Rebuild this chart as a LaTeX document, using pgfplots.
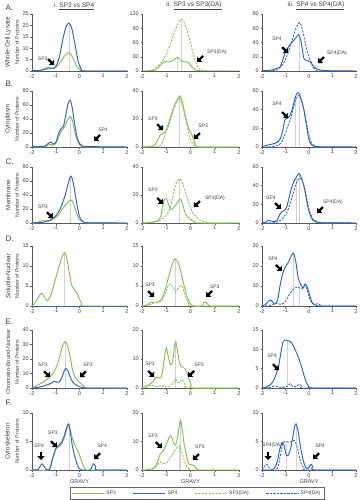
\documentclass[border=0pt]{standalone}
\usepackage{fontspec}
\setmainfont{Liberation Sans}
\usepackage{pgfplots}
\pgfplotsset{compat=1.18}
\usetikzlibrary{arrows.meta}
\definecolor{sgreen}{RGB}{140,188,90}
\definecolor{sblue}{RGB}{52,98,190}
\definecolor{txt}{RGB}{64,64,64}
\newcommand{\fs}[1]{\fontsize{#1}{#1}\selectfont}
\tikzset{
  bigarrow/.style={line width=2.3pt, black, -{Triangle[length=3.8pt,width=7pt]}},
  lab/.style={font=\fs{5}, text=txt, inner sep=0pt},
}
\newcommand{\aSE}[2]{\draw[bigarrow] ([shift={(-6pt,6pt)}]axis cs:#1,#2) -- (axis cs:#1,#2);}
\newcommand{\aSW}[2]{\draw[bigarrow] ([shift={(6pt,6pt)}]axis cs:#1,#2) -- (axis cs:#1,#2);}
\newcommand{\aS}[2]{\draw[bigarrow] ([shift={(0pt,8pt)}]axis cs:#1,#2) -- (axis cs:#1,#2);}
\newcommand{\lb}[3]{\node[lab] at (axis cs:#1,#2) {#3};}
\pgfplotsset{
  panel/.style={scale only axis, anchor=south west,
    axis lines*=left, axis line style={-,black!65,line width=0.4pt},
    xmin=-2, xmax=2, ymin=0, xtick={-2,-1,0,1,2},
    tick align=outside, major tick length=1.5pt,
    tick style={black!65,line width=0.4pt},
    tick label style={font=\fs{5.5}, text=txt},
    xticklabel style={inner sep=1.5pt}, yticklabel style={inner sep=1.5pt},
    /pgf/number format/assume math mode=true,
    clip mode=individual},
  sp3/.style={sgreen, line width=0.95pt, smooth, tension=0.5},
  sp4/.style={sblue, line width=0.95pt, smooth, tension=0.5},
  sp3da/.style={sgreen, line width=0.85pt, dash pattern=on 2.2pt off 1.3pt, smooth, tension=0.5},
  sp4da/.style={sblue, line width=0.85pt, dash pattern=on 2.2pt off 1.3pt, smooth, tension=0.5},
  gl/.style={gray!35, line width=0.6pt},
  gravy/.style={xlabel={GRAVY}, xlabel style={font=\fs{5.5}, text=txt, inner sep=1pt}},
}
\begin{document}
\begin{tikzpicture}
\path[use as bounding box] (0,0) rectangle (360pt,-500pt);
% titles
\node[font=\fs{6.5}, text=txt] at (74pt,-6pt) {i. \underline{SP3 vs SP4}};
\node[font=\fs{6.5}, text=txt] at (194pt,-6pt) {ii. \underline{SP3 vs SP3(DA)}};
\node[font=\fs{6.5}, text=txt] at (316pt,-6pt) {iii. \underline{SP4 vs SP4(DA)}};
% row letters
\foreach \l/\y in {A./8,B./84,C./162,D./239,E./322,F./403}{
  \node[anchor=west, font=\fs{8}, text=txt] at (2pt,-\y pt) {\l};
}
% row labels
\foreach \t/\y/\s in {Whole-Cell Lysate/42.5/6.3,Cytoplasm/119/6.3,Membrane/195/6.3,Soluble-Nuclear/276/6.3,Chromatin-Bound-Nuclear/362/5.6,Cytoskeleton/441.5/6.3}{
  \node[rotate=90, font=\fs{\s}, text=txt] at (8pt,-\y pt) {\t};
  \node[rotate=90, font=\fs{5.2}, text=txt] at (17pt,-\y pt) {Number of Proteins};
}

% ===== Row A =====
\begin{axis}[panel, at={(32pt,-71pt)}, width=95pt, height=57pt, ymax=25, ytick={0,5,...,25}]
\addplot[gl] coordinates {(-0.45,0)(-0.45,21)};
\addplot[sp3] coordinates {(-2,0)(-1.65,0.3)(-1.45,1.3)(-1.3,1.6)(-1.15,1.2)(-1,1.6)(-0.85,3.2)(-0.7,5.5)(-0.55,7.6)(-0.45,8)(-0.35,7.2)(-0.22,4.5)(-0.1,1.8)(0.05,0.4)(0.2,0)(2,0)};
\addplot[sp4] coordinates {(-2,0.2)(-1.6,0.3)(-1.35,1)(-1.15,1)(-1,2)(-0.85,6)(-0.72,13)(-0.58,19)(-0.45,21)(-0.32,18.5)(-0.18,11)(-0.05,4)(0.08,0.8)(0.25,0)(2,0)};
\aSE{-1.07}{2.6}\lb{-1.55}{5.2}{SP3}
\end{axis}
\begin{axis}[panel, at={(142pt,-71pt)}, width=97pt, height=57pt, ymax=120, ytick={0,30,...,120}]
\addplot[gl] coordinates {(-0.55,0)(-0.55,29)};
\addplot[gl] coordinates {(-0.38,0)(-0.38,109)};
\addplot[sp3da] coordinates {(-2,0)(-1.7,0.5)(-1.5,4)(-1.25,15)(-1.0,35)(-0.8,62)(-0.6,90)(-0.45,106)(-0.38,109)(-0.28,104)(-0.14,86)(0,60)(0.1,38)(0.25,14)(0.4,4)(0.6,1)(0.9,0)(2,0)};
\addplot[sp3] coordinates {(-2,0)(-1.6,0.5)(-1.4,4)(-1.2,14)(-1.05,20)(-0.9,19)(-0.7,23)(-0.55,29)(-0.42,23)(-0.28,19)(-0.12,19)(0.02,11)(0.18,3)(0.4,0.5)(0.7,0)(2,0)};
\aSW{0.27}{19}\lb{1.09}{40}{SP3(DA)}
\end{axis}
\begin{axis}[panel, at={(262pt,-71pt)}, width=94pt, height=57pt, ymax=80, ytick={0,20,...,80}]
\addplot[gl] coordinates {(-0.42,0)(-0.42,51)};
\addplot[sp4da] coordinates {(-2,0)(-1.5,0.5)(-1.3,3)(-1.15,8)(-1.0,16)(-0.85,30)(-0.7,46)(-0.55,60)(-0.4,68)(-0.28,58)(-0.16,39)(-0.05,25)(0.06,15)(0.17,6)(0.3,1.5)(0.5,0)(2,0)};
\addplot[sp4] coordinates {(-2,0.5)(-1.6,1.2)(-1.35,4)(-1.25,5)(-1.15,12)(-1.0,27)(-0.85,35)(-0.7,41)(-0.55,47)(-0.44,51)(-0.33,40)(-0.22,18)(-0.1,15)(0.05,13)(0.2,6)(0.35,2.5)(0.6,0.8)(1,0.3)(2,0)};
\aSE{-0.89}{25}\lb{-1.36}{45}{SP4}
\aSW{0.38}{11}\lb{1.19}{25}{SP4(DA)}
\end{axis}

% ===== Row B =====
\begin{axis}[panel, at={(32pt,-147pt)}, width=95pt, height=56pt, ymax=80, ytick={0,20,...,80}]
\addplot[gl] coordinates {(-0.4,0)(-0.4,44)};
\addplot[sp3] coordinates {(-2,0)(-1.6,0.3)(-1.4,1)(-1.25,4)(-1.12,2.5)(-1.0,5)(-0.85,16)(-0.75,24)(-0.65,27)(-0.55,35)(-0.45,42)(-0.39,44)(-0.3,38)(-0.2,22)(-0.1,10)(0,3)(0.12,0.5)(0.3,0)(2,0)};
\addplot[sp4] coordinates {(-2,0.5)(-1.6,0.5)(-1.45,1.5)(-1.32,5)(-1.2,7)(-1.08,4)(-0.98,8)(-0.87,20)(-0.78,26)(-0.68,29)(-0.58,45)(-0.48,62)(-0.39,66.5)(-0.3,55)(-0.2,32)(-0.1,14)(0,5)(0.12,1.5)(0.3,0.5)(0.6,0.5)(1,0.3)(2,0)};
\aSW{0.61}{8.6}\lb{0.99}{24}{SP4}
\end{axis}
\begin{axis}[panel, at={(142pt,-147pt)}, width=97pt, height=56pt, ymax=40, ytick={0,20,40}]
\addplot[gl] coordinates {(-0.45,0)(-0.45,36)};
\addplot[sp3da] coordinates {(-2,0)(-1.4,0.2)(-1.22,1.5)(-1.08,7)(-0.95,13)(-0.8,21)(-0.65,29)(-0.55,33)(-0.47,35)(-0.38,32)(-0.27,25)(-0.15,16)(-0.05,8)(0.07,3)(0.2,0.5)(0.4,0)(2,0)};
\addplot[sp3] coordinates {(-2,0)(-1.7,0.3)(-1.5,1)(-1.38,4)(-1.25,8.5)(-1.1,10)(-0.98,13)(-0.85,20)(-0.72,27)(-0.6,32)(-0.5,35)(-0.43,36.5)(-0.35,33)(-0.27,27)(-0.17,19)(-0.07,13)(0.05,9)(0.13,5)(0.22,1)(0.4,0)(2,0)};
\aSE{-1.13}{12}\lb{-1.55}{20}{SP3}
\aSW{0.14}{5.7}\lb{0.52}{15}{SP3}
\end{axis}
\begin{axis}[panel, at={(262pt,-147pt)}, width=94pt, height=56pt, ymax=60, ytick={0,20,...,60}]
\addplot[gl] coordinates {(-0.58,0)(-0.58,52)};
\addplot[gl] coordinates {(-0.41,0)(-0.41,55)};
\addplot[sp4da] coordinates {(-2,0)(-1.6,0.3)(-1.3,2)(-1.15,6)(-1.0,15)(-0.88,24)(-0.78,30)(-0.68,40)(-0.58,50)(-0.48,54)(-0.41,55)(-0.3,48)(-0.18,36)(-0.08,22)(0.02,10)(0.12,4)(0.25,1)(0.45,0)(2,0)};
\addplot[sp4] coordinates {(-2,0.5)(-1.85,1.5)(-1.7,2.5)(-1.5,3.5)(-1.35,5)(-1.22,9)(-1.12,17)(-1.03,29)(-0.92,31)(-0.82,33)(-0.7,42)(-0.6,52)(-0.5,58)(-0.42,57)(-0.32,50)(-0.22,40)(-0.12,25)(-0.02,10)(0.08,3)(0.2,0.8)(0.4,0.3)(2,0)};
\aSE{-0.89}{31}\lb{-1.36}{46}{SP4}
\end{axis}

% ===== Row C =====
\begin{axis}[panel, at={(32pt,-223pt)}, width=95pt, height=56pt, ymax=80, ytick={0,20,...,80}]
\addplot[gl] coordinates {(-0.38,0)(-0.38,67)};
\addplot[sp3] coordinates {(-2,0)(-1.8,0.5)(-1.65,2.5)(-1.55,3.3)(-1.42,2.8)(-1.3,2.8)(-1.15,4.5)(-1.0,7.5)(-0.85,13)(-0.74,19)(-0.6,25)(-0.48,30)(-0.36,33)(-0.25,28)(-0.13,15)(-0.03,6)(0.1,2)(0.25,0.3)(0.5,0)(2,0)};
\addplot[sp4] coordinates {(-2,0.3)(-1.6,0.8)(-1.4,2.3)(-1.2,5)(-1.02,9.5)(-0.9,15)(-0.8,21)(-0.7,30)(-0.6,40)(-0.48,56)(-0.36,67)(-0.25,55)(-0.13,31)(-0.03,13)(0.06,5)(0.18,1.4)(0.4,0.3)(2,0)};
\aSE{-1.12}{7}\lb{-1.54}{23}{SP3}
\end{axis}
\begin{axis}[panel, at={(142pt,-223pt)}, width=97pt, height=56pt, ymax=40, ytick={0,20,40}]
\addplot[gl] coordinates {(-0.47,0)(-0.47,31.5)};
\addplot[sp3da] coordinates {(-2,0)(-1.8,0.5)(-1.6,0.3)(-1.4,1)(-1.2,2.5)(-1.05,4.5)(-0.9,8)(-0.78,15)(-0.68,23)(-0.58,29)(-0.47,31.5)(-0.38,30)(-0.28,26)(-0.2,22)(-0.1,16)(0,11)(0.1,7)(0.2,5)(0.35,2.5)(0.5,1.2)(0.7,0.3)(1,0)(2,0)};
\addplot[sp3] coordinates {(-2,0)(-1.7,0.3)(-1.45,1)(-1.33,2)(-1.22,5)(-1.15,12)(-1.07,17)(-1.0,17.5)(-0.92,14)(-0.82,10)(-0.72,10.5)(-0.6,13)(-0.48,16)(-0.4,17)(-0.32,13)(-0.22,7)(-0.12,4.5)(-0.02,3)(0.07,1.6)(0.2,0.5)(0.4,0)(2,0)};
\aSE{-1.13}{13.6}\lb{-1.55}{23.6}{SP3}
\aSW{0.14}{11.4}\lb{1.01}{18}{SP3(DA)}
\end{axis}
\begin{axis}[panel, at={(262pt,-223pt)}, width=94pt, height=56pt, ymax=60, ytick={0,20,...,60}]
\addplot[gl] coordinates {(-0.55,0)(-0.55,49)};
\addplot[gl] coordinates {(-0.4,0)(-0.4,53)};
\addplot[sp4da] coordinates {(-2,0)(-1.5,0.3)(-1.3,1.5)(-1.15,4)(-1.0,9)(-0.88,15)(-0.78,23)(-0.68,31)(-0.58,40)(-0.48,46)(-0.37,48)(-0.27,44)(-0.18,37)(-0.08,24)(0.02,13)(0.12,7)(0.22,3)(0.4,1)(0.6,0.3)(2,0)};
\addplot[sp4] coordinates {(-2,0.3)(-1.85,0.8)(-1.72,3)(-1.6,2)(-1.45,1.5)(-1.35,3)(-1.25,9)(-1.15,12)(-1.05,13.5)(-0.95,17)(-0.85,27)(-0.75,37)(-0.65,44)(-0.55,49)(-0.42,53)(-0.32,48)(-0.22,40)(-0.12,27)(-0.03,15)(0.06,8)(0.16,3)(0.3,1)(0.5,0.3)(2,0)};
\aSE{-1.19}{15}\lb{-1.62}{27}{SP4}
\aSW{0.34}{10.7}\lb{1.02}{22.5}{SP4(DA)}
\end{axis}

% ===== Row D =====
\begin{axis}[panel, at={(32pt,-306pt)}, width=95pt, height=60pt, ymax=15, ytick={0,5,...,15}]
\addplot[gl] coordinates {(-0.62,0)(-0.62,13.3)};
\addplot[sp3] coordinates {(-2,0)(-1.9,0.5)(-1.75,2)(-1.6,3.2)(-1.48,2.3)(-1.36,1.3)(-1.22,2.5)(-1.09,5)(-0.96,7.8)(-0.83,10.5)(-0.72,12.5)(-0.62,13.3)(-0.52,11.5)(-0.42,8)(-0.32,5)(-0.22,4.2)(-0.12,3.4)(-0.02,2)(0.08,0.8)(0.2,0)(2,0)};
\addplot[sp4] coordinates {(-2,0)(2,0)};
\end{axis}
\begin{axis}[panel, at={(142pt,-306pt)}, width=97pt, height=60pt, ymax=15, ytick={0,5,...,15}]
\addplot[gl] coordinates {(-0.62,0)(-0.62,11.8)};
\addplot[sp3da] coordinates {(-2,0)(-1.7,0.3)(-1.5,0.7)(-1.35,0.8)(-1.2,1.2)(-1.05,3)(-0.92,5)(-0.82,5.5)(-0.72,4.8)(-0.62,3.5)(-0.5,4.5)(-0.38,5.2)(-0.28,3.8)(-0.18,2)(-0.07,0.6)(0.05,0)(2,0)};
\addplot[sp3] coordinates {(-2,0)(-1.8,0.2)(-1.65,0.8)(-1.5,1)(-1.35,1)(-1.22,1.5)(-1.1,3)(-0.98,5.5)(-0.85,8.5)(-0.72,11)(-0.62,11.8)(-0.52,11)(-0.42,9)(-0.32,6.5)(-0.22,4)(-0.12,2)(-0.02,0.7)(0.1,0)(0.45,0)(0.55,0.8)(0.62,1)(0.72,0.5)(0.85,0)(2,0)};
\aSE{-1.5}{2.25}\lb{-1.67}{5.25}{SP3}
\aSW{0.64}{2.25}\lb{1.0}{4.75}{SP3}
\end{axis}
\begin{axis}[panel, at={(262pt,-306pt)}, width=94pt, height=60pt, ymax=30, ytick={0,10,...,30}]
\addplot[gl] coordinates {(-0.66,0)(-0.66,26.5)};
\addplot[gl] coordinates {(-0.4,0)(-0.4,9)};
\addplot[sp4da] coordinates {(-2,0)(-1.6,0.3)(-1.45,1.5)(-1.35,1.2)(-1.2,0.8)(-1.05,1.5)(-0.92,4)(-0.8,6.5)(-0.65,8.5)(-0.5,9.5)(-0.4,9)(-0.3,8.7)(-0.18,10.3)(-0.08,8)(0.02,4)(0.12,1.5)(0.25,0.8)(0.38,1.2)(0.48,0.5)(0.6,0)(2,0)};
\addplot[sp4] coordinates {(-2,0)(-1.85,0.8)(-1.72,2.5)(-1.62,3)(-1.52,1.5)(-1.42,1)(-1.32,4)(-1.22,11)(-1.1,17)(-0.98,20)(-0.87,22)(-0.76,25)(-0.66,26.5)(-0.56,22)(-0.46,14)(-0.36,11)(-0.26,9)(-0.16,11)(-0.06,9)(0.04,5)(0.14,1.5)(0.3,0.3)(0.5,0)(2,0)};
\aSE{-1.15}{17.5}\lb{-1.53}{23.5}{SP4}
\end{axis}

% ===== Row E =====
\begin{axis}[panel, at={(32pt,-388pt)}, width=95pt, height=58pt, ymax=40, ytick={0,10,...,40}]
\addplot[gl] coordinates {(-0.6,0)(-0.6,32)};
\addplot[sp3] coordinates {(-2,0)(-1.9,0.8)(-1.75,2)(-1.6,3.5)(-1.45,5)(-1.3,7)(-1.15,9.5)(-1.02,13)(-0.9,18)(-0.8,24)(-0.7,29.5)(-0.6,32)(-0.5,29)(-0.4,22)(-0.3,13)(-0.2,8)(-0.1,5.5)(0,4)(0.1,2.6)(0.2,1)(0.32,0)(2,0)};
\addplot[sp4] coordinates {(-2,0)(-1.8,0.3)(-1.6,1)(-1.4,2)(-1.2,3.2)(-1.08,4.5)(-0.95,4)(-0.85,4.2)(-0.75,7)(-0.65,11.5)(-0.57,13.5)(-0.48,11.5)(-0.38,7)(-0.28,4)(-0.18,2.5)(-0.05,1.3)(0.1,0.4)(0.25,0)(2,0)};
\aSE{-1.24}{7.4}\lb{-1.54}{16}{SP3}
\aSW{0.02}{7.4}\lb{0.36}{16}{SP3}
\end{axis}
\begin{axis}[panel, at={(142pt,-388pt)}, width=97pt, height=58pt, ymax=20, ytick={0,10,20}]
\addplot[gl] coordinates {(-0.62,0)(-0.62,16)};
\addplot[sp3da] coordinates {(-2,0)(-1.8,0.3)(-1.6,1)(-1.45,0.5)(-1.3,0.6)(-1.2,1)(-1.1,0.5)(-0.95,0.3)(-0.8,0.8)(-0.7,1.8)(-0.61,3)(-0.52,1.8)(-0.44,2)(-0.36,3)(-0.28,2)(-0.2,0.6)(-0.1,0)(2,0)};
\addplot[sp3] coordinates {(-2,0)(-1.85,0.5)(-1.7,1.2)(-1.55,2.2)(-1.42,3.8)(-1.32,3.5)(-1.22,3.5)(-1.15,6)(-1.08,10)(-1.0,13.8)(-0.92,11)(-0.82,8)(-0.74,9)(-0.68,13)(-0.61,16)(-0.54,13)(-0.46,9)(-0.38,7.5)(-0.28,7)(-0.2,6.3)(-0.12,4.5)(-0.05,2.8)(0.03,1)(0.12,0)(2,0)};
\aSE{-1.5}{3.8}\lb{-1.67}{8.3}{SP3}
\aSW{-0.1}{3.8}\lb{0.35}{7.9}{SP3}
\end{axis}
\begin{axis}[panel, at={(262pt,-388pt)}, width=94pt, height=58pt, ymax=15, ytick={0,5,...,15}]
\addplot[gl] coordinates {(-0.93,0)(-0.93,12.4)};
\addplot[sp4da] coordinates {(-2,0)(-1.6,0.2)(-1.45,0.6)(-1.3,0.2)(-1.0,0.2)(-0.88,0.7)(-0.8,1.1)(-0.7,0.5)(-0.58,0.3)(-0.48,0.7)(-0.4,1)(-0.32,0.5)(-0.2,0)(2,0)};
\addplot[sp4] coordinates {(-2,0)(-1.8,0.3)(-1.65,0.8)(-1.52,1.8)(-1.4,3.5)(-1.3,5.5)(-1.2,9)(-1.1,12)(-0.98,12.4)(-0.85,12.2)(-0.72,11.5)(-0.6,10)(-0.5,8.7)(-0.4,7)(-0.3,5.2)(-0.2,3)(-0.1,1.3)(0,0.4)(0.15,0)(2,0)};
\aSE{-1.28}{4.6}\lb{-1.57}{8.3}{SP4}
\end{axis}

% ===== Row F =====
\begin{axis}[panel, gravy, at={(32pt,-470pt)}, width=95pt, height=57pt, ymax=10, ytick={0,5,10}]
\addplot[gl] coordinates {(-0.45,0)(-0.45,8)};
\addplot[sp3] coordinates {(-2,0)(-1.3,0)(-1.2,0.8)(-1.1,2.4)(-1.0,3.7)(-0.9,4)(-0.8,4.2)(-0.7,5)(-0.6,6.2)(-0.5,7.6)(-0.44,7.9)(-0.36,6.5)(-0.26,5)(-0.15,4)(-0.05,3.2)(0.05,2)(0.15,0.9)(0.25,0.1)(0.35,0)(2,0)};
\addplot[sp4] coordinates {(-2,0)(-1.75,0.1)(-1.65,0.7)(-1.58,1.1)(-1.5,0.7)(-1.4,0.1)(-1.3,0)(-1.22,0.6)(-1.12,2.2)(-1.0,3.7)(-0.88,4.3)(-0.76,4.8)(-0.66,5.8)(-0.56,7.2)(-0.46,8.1)(-0.38,6.5)(-0.3,4.2)(-0.2,2.4)(-0.1,1)(0,0.2)(0.1,0)(0.45,0)(0.52,0.6)(0.6,1.1)(0.68,0.6)(0.76,0)(2,0)};
\aS{-1.62}{1.75}\lb{-1.7}{4.3}{SP4}
\aSE{-0.95}{4}\lb{-1.12}{6.6}{SP3}
\aSW{0.61}{1.9}\lb{0.95}{4.3}{SP4}
\end{axis}
\begin{axis}[panel, gravy, at={(142pt,-470pt)}, width=97pt, height=57pt, ymax=20, ytick={0,10,20},
  legend style={at={(0.567,-0.30)}, anchor=north, legend columns=4, font=\fs{5}, text=txt,
    draw=black!60, line width=0.4pt, inner sep=1.5pt,
    /tikz/every even column/.append style={column sep=15pt}},
  legend image code/.code={\draw[#1] (0pt,0pt) -- (32pt,0pt);}]
\addlegendimage{sp3}\addlegendentry{SP3}
\addlegendimage{sp4}\addlegendentry{SP4}
\addlegendimage{sp3da}\addlegendentry{SP3(DA)}
\addlegendimage{sp4da}\addlegendentry{SP4(DA)}
\addplot[gl, forget plot] coordinates {(-0.47,0)(-0.47,8.5)};
\addplot[gl, forget plot] coordinates {(-0.41,0)(-0.41,17.5)};
\addplot[sp3da, forget plot] coordinates {(-2,0)(-1.55,0.2)(-1.45,1)(-1.35,2)(-1.25,2.8)(-1.15,2.5)(-1.05,2.2)(-0.95,2.8)(-0.85,4)(-0.75,5.5)(-0.65,6.8)(-0.55,8)(-0.46,8.5)(-0.38,7)(-0.3,4.5)(-0.22,2.5)(-0.14,1.1)(-0.05,0.3)(0.05,0)(2,0)};
\addplot[sp3, forget plot] coordinates {(-2,0)(-1.7,0.2)(-1.55,0.5)(-1.45,1.2)(-1.35,3)(-1.25,5.5)(-1.15,6.5)(-1.05,8)(-0.95,10)(-0.85,12)(-0.78,11.5)(-0.7,9.5)(-0.62,8.8)(-0.54,11)(-0.47,15)(-0.41,17.5)(-0.34,14)(-0.27,9.5)(-0.2,6.5)(-0.12,3.5)(-0.05,2)(0.05,1.8)(0.14,1.6)(0.22,0.8)(0.3,0.1)(0.4,0)(2,0)};
\aSE{-1.18}{7.7}\lb{-1.55}{12}{SP3}
\aSW{0.1}{3.5}\lb{0.39}{8}{SP3}
\end{axis}
\begin{axis}[panel, gravy, at={(262pt,-470pt)}, width=94pt, height=57pt, ymax=10, ytick={0,5,10}]
\addplot[gl] coordinates {(-0.95,0)(-0.95,5)};
\addplot[gl] coordinates {(-0.56,0)(-0.56,8)};
\addplot[sp4da] coordinates {(-2,0)(-1.95,0.2)(-1.85,0.9)(-1.78,1)(-1.7,0.4)(-1.6,0)(-1.4,0)(-1.3,0.8)(-1.2,3)(-1.1,4.8)(-1.0,5.1)(-0.9,4.9)(-0.8,4.9)(-0.7,5.1)(-0.62,5.2)(-0.52,4.3)(-0.42,2.5)(-0.32,1)(-0.2,0.2)(-0.1,0)(2,0)};
\addplot[sp4] coordinates {(-2,0)(-1.6,0)(-1.45,0.5)(-1.35,1.5)(-1.25,3.5)(-1.15,4.8)(-1.07,4.5)(-0.98,2.8)(-0.9,2.5)(-0.8,3.5)(-0.7,5.5)(-0.62,7.5)(-0.55,8.1)(-0.47,7)(-0.38,4.5)(-0.28,2.3)(-0.18,0.8)(-0.08,0.2)(0,0.5)(0.08,1)(0.16,0.6)(0.25,0)(2,0)};
\aS{-1.74}{1.75}\lb{-1.57}{4.3}{SP4(DA)}
\aSW{0.17}{1.9}\lb{0.47}{4.3}{SP4}
\end{axis}
\end{tikzpicture}
\end{document}
